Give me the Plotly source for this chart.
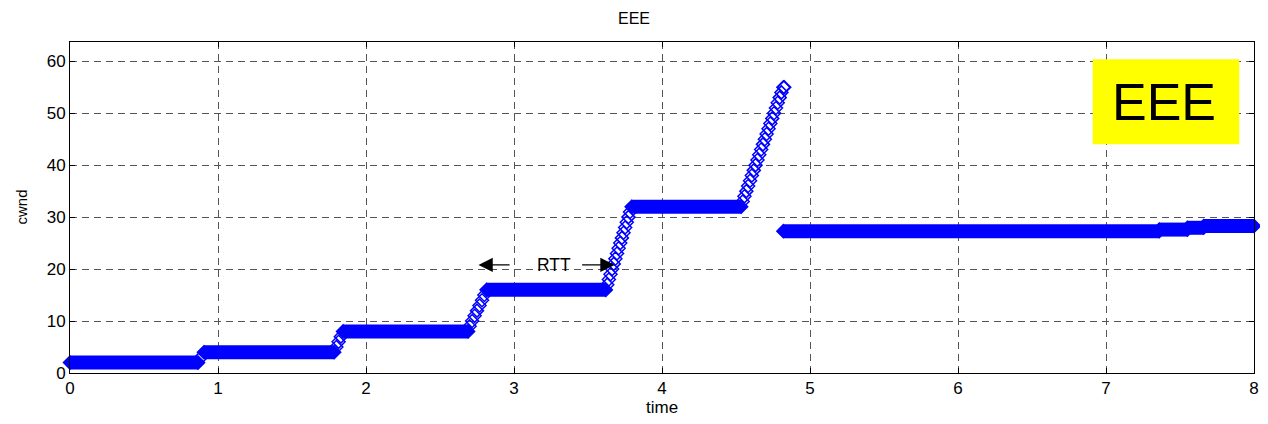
import plotly.graph_objects as go

# ---- data ----
plateau_start = [0.0, 0.905, 1.845, 2.815, 3.795, 4.82, 7.36, 7.55, 7.66]
plateau_end = [0.865, 1.785, 2.69, 3.62, 4.535, 7.36, 7.55, 7.66, 8.0]
plateau_val = [2, 4, 8, 16, 32, 27.3, 27.6, 27.95, 28.3]

ramp_time = [0.885,
             1.800, 1.815, 1.830,
             2.700, 2.717, 2.734, 2.750, 2.767, 2.784, 2.800,
             3.630, 3.641, 3.652, 3.663, 3.674, 3.685, 3.696, 3.707,
             3.718, 3.729, 3.740, 3.751, 3.762, 3.773, 3.784,
             4.545, 4.557, 4.570, 4.582, 4.595, 4.607, 4.620, 4.632,
             4.645, 4.657, 4.670, 4.682, 4.695, 4.707, 4.720, 4.732,
             4.745, 4.757, 4.770, 4.782, 4.795, 4.807, 4.820, 4.826]
ramp_cwnd = [3,
             5, 6, 7,
             9, 10, 11, 12, 13, 14, 15,
             17, 18, 19, 20, 21, 22, 23, 24,
             25, 26, 27, 28, 29, 30, 31,
             33, 34, 35, 36, 37, 38, 39, 40,
             41, 42, 43, 44, 45, 46, 47, 48,
             49, 50, 51, 52, 53, 54, 55, 55]

x_ticks = [0, 1, 2, 3, 4, 5, 6, 7, 8]
y_ticks = [0, 10, 20, 30, 40, 50, 60]

title_text = "EEE"
box_text = "EEE"
rtt_text = "RTT"
x_label = "time"
y_label = "cwnd"

BLUE = "#0000FF"
FONT = "Liberation Sans, Arial, Helvetica, sans-serif"

# plateau segments as thick bands
seg_x, seg_y, end_x, end_y = [], [], [], []
for s, e, v in zip(plateau_start, plateau_end, plateau_val):
    seg_x += [s, e, None]
    seg_y += [v, v, None]
    end_x += [s, e]
    end_y += [v, v]

fig = go.Figure()
fig.add_trace(go.Scatter(x=seg_x, y=seg_y, mode="lines",
                         line=dict(color=BLUE, width=14), hoverinfo="skip",
                         showlegend=False))
fig.add_trace(go.Scatter(x=end_x, y=end_y, mode="markers", cliponaxis=False,
                         marker=dict(symbol="diamond", size=10, color=BLUE,
                                     line=dict(color=BLUE, width=1.5)),
                         showlegend=False))
fig.add_trace(go.Scatter(x=ramp_time, y=ramp_cwnd, mode="markers", cliponaxis=False,
                         marker=dict(symbol="diamond-open", size=10, color=BLUE,
                                     line=dict(color=BLUE, width=1.5)),
                         showlegend=False))

axis_common = dict(showline=True, linecolor="black", linewidth=1, mirror="ticks",
                   ticks="inside", ticklen=5, tickcolor="black", automargin=False,
                   showgrid=True, gridcolor="#555555", gridwidth=1, griddash="7px,5px",
                   zeroline=False, tickfont=dict(size=17, color="black", family=FONT))

fig.update_xaxes(range=[0, 8], tickvals=x_ticks, ticktext=[str(v) for v in x_ticks],
                 **axis_common)
fig.update_yaxes(range=[0, 63.7], tickvals=y_ticks, ticktext=[str(v) for v in y_ticks],
                 **axis_common)

# axis labels
fig.add_annotation(x=0.5, y=0, xref="paper", yref="paper", xanchor="center", yanchor="middle",
                   yshift=-34, text=x_label, showarrow=False,
                   font=dict(size=17, color="black", family=FONT))
fig.add_annotation(x=0, y=0.5, xref="paper", yref="paper", xanchor="center", yanchor="middle",
                   xshift=-49, text=y_label, textangle=-90, showarrow=False,
                   font=dict(size=15, color="black", family=FONT))

# RTT arrows and label
fig.add_annotation(x=2.76, y=20.8, ax=2.98, ay=20.8, xref="x", yref="y", axref="x", ayref="y",
                   text="", showarrow=True, arrowhead=2, arrowsize=2.6, arrowwidth=1.1,
                   arrowcolor="black")
fig.add_annotation(x=3.68, y=20.8, ax=3.45, ay=20.8, xref="x", yref="y", axref="x", ayref="y",
                   text="", showarrow=True, arrowhead=2, arrowsize=2.6, arrowwidth=1.1,
                   arrowcolor="black")
fig.add_annotation(x=3.27, y=20.8, xref="x", yref="y", text=rtt_text, showarrow=False,
                   font=dict(size=17.5, color="black", family=FONT))

# yellow box
fig.add_shape(type="rect", xref="x", yref="y", x0=6.91, x1=7.9, y0=44.0, y1=60.4,
              fillcolor="#FFFF00", line=dict(width=0), layer="above")
fig.add_annotation(x=7.395, y=52.2, xref="x", yref="y", text=box_text, showarrow=False,
                   font=dict(size=52, color="black", family=FONT))

# page body has an 8px margin, so the figure is sized to fit the window without overflow
fig.update_layout(
    width=1252, height=408,
    margin=dict(l=62, r=6, t=34, b=43),
    paper_bgcolor="white", plot_bgcolor="white",
    title=dict(text=title_text, x=0.5, xanchor="center", y=0.975, yanchor="middle",
               font=dict(size=16, color="black", family=FONT)),
    font=dict(family=FONT, color="black"),
)

fig.write_html("out.html")
